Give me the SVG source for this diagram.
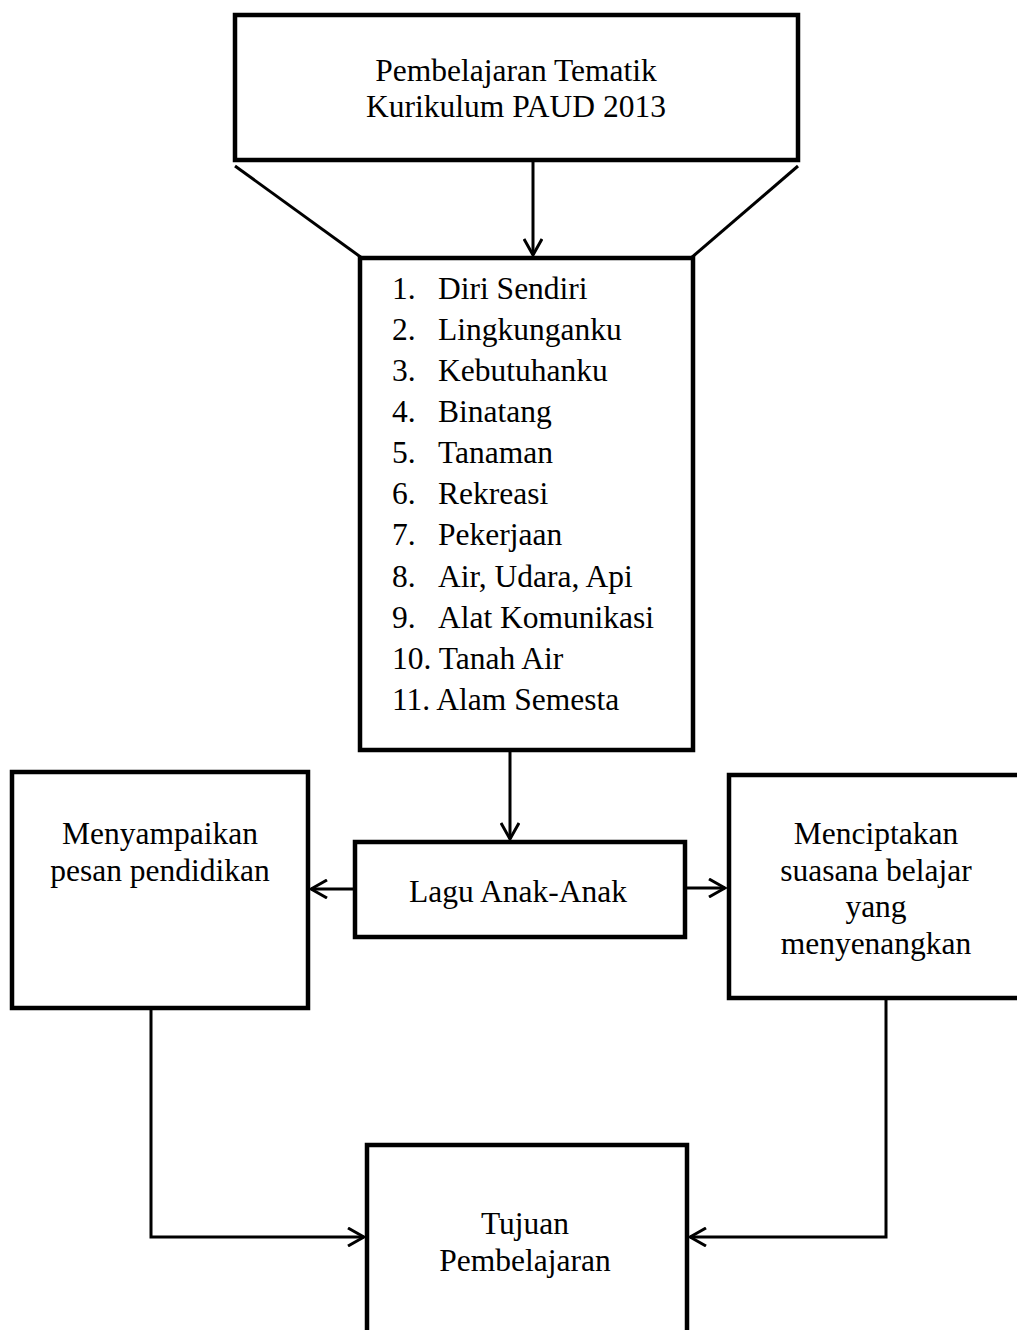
<svg xmlns="http://www.w3.org/2000/svg" width="1017" height="1330" viewBox="0 0 1017 1330">
<style>
.box{fill:#fff;stroke:#000;stroke-width:4.5}
.ln{fill:none;stroke:#000;stroke-width:3}
text{font-family:"Liberation Serif","Times New Roman",serif;font-size:31.5px;fill:#000}
.c{text-anchor:middle}
</style>
<defs>
<marker id="vs" viewBox="0 0 20 20" refX="18" refY="10" markerWidth="20" markerHeight="20" markerUnits="userSpaceOnUse" orient="auto">
<polyline points="2,1 18,10 2,19" fill="none" stroke="#000" stroke-width="3"/>
</marker>
</defs>
<rect width="1017" height="1330" fill="#fff"/>
<g id="connectors">
<line class="ln" x1="235" y1="166" x2="362" y2="258"/>
<line class="ln" x1="798" y1="166" x2="691" y2="258"/>
<line class="ln" x1="533" y1="161" x2="533" y2="255" marker-end="url(#vs)"/>
<line class="ln" x1="510" y1="751" x2="510" y2="839" marker-end="url(#vs)"/>
<line class="ln" x1="355" y1="889" x2="311" y2="889" marker-end="url(#vs)"/>
<line class="ln" x1="685" y1="888" x2="725" y2="888" marker-end="url(#vs)"/>
<polyline class="ln" points="151,1008 151,1237 364,1237" marker-end="url(#vs)"/>
<polyline class="ln" points="886,999 886,1237 690,1237" marker-end="url(#vs)"/>
</g>
<g id="node-tematik">
<rect class="box" x="235" y="15" width="563" height="145"/>
<text class="c" x="516" y="81">Pembelajaran Tematik</text>
<text class="c" x="516" y="117">Kurikulum PAUD 2013</text>
</g>
<g id="node-tema">
<rect class="box" x="360" y="258" width="333" height="492"/>
<text x="392" y="299">1.</text><text x="438" y="299">Diri Sendiri</text>
<text x="392" y="340">2.</text><text x="438" y="340">Lingkunganku</text>
<text x="392" y="381">3.</text><text x="438" y="381">Kebutuhanku</text>
<text x="392" y="422">4.</text><text x="438" y="422">Binatang</text>
<text x="392" y="463">5.</text><text x="438" y="463">Tanaman</text>
<text x="392" y="504">6.</text><text x="438" y="504">Rekreasi</text>
<text x="392" y="545">7.</text><text x="438" y="545">Pekerjaan</text>
<text x="392" y="587">8.</text><text x="438" y="587">Air, Udara, Api</text>
<text x="392" y="628">9.</text><text x="438" y="628">Alat Komunikasi</text>
<text x="392" y="669">10. Tanah Air</text>
<text x="392" y="710">11. Alam Semesta</text>
</g>
<g id="node-lagu">
<rect class="box" x="355" y="842" width="330" height="95"/>
<text class="c" x="518" y="902">Lagu Anak-Anak</text>
</g>
<g id="node-pesan">
<rect class="box" x="12" y="772" width="296" height="236"/>
<text class="c" x="160" y="844">Menyampaikan</text>
<text class="c" x="160" y="881">pesan pendidikan</text>
</g>
<g id="node-suasana">
<rect class="box" x="729" y="775" width="295" height="223"/>
<text class="c" x="876" y="844">Menciptakan</text>
<text class="c" x="876" y="881">suasana belajar</text>
<text class="c" x="876" y="917">yang</text>
<text class="c" x="876" y="954">menyenangkan</text>
</g>
<g id="node-tujuan">
<rect class="box" x="367" y="1145" width="320" height="200"/>
<text class="c" x="525" y="1234">Tujuan</text>
<text class="c" x="525" y="1271">Pembelajaran</text>
</g>
</svg>
